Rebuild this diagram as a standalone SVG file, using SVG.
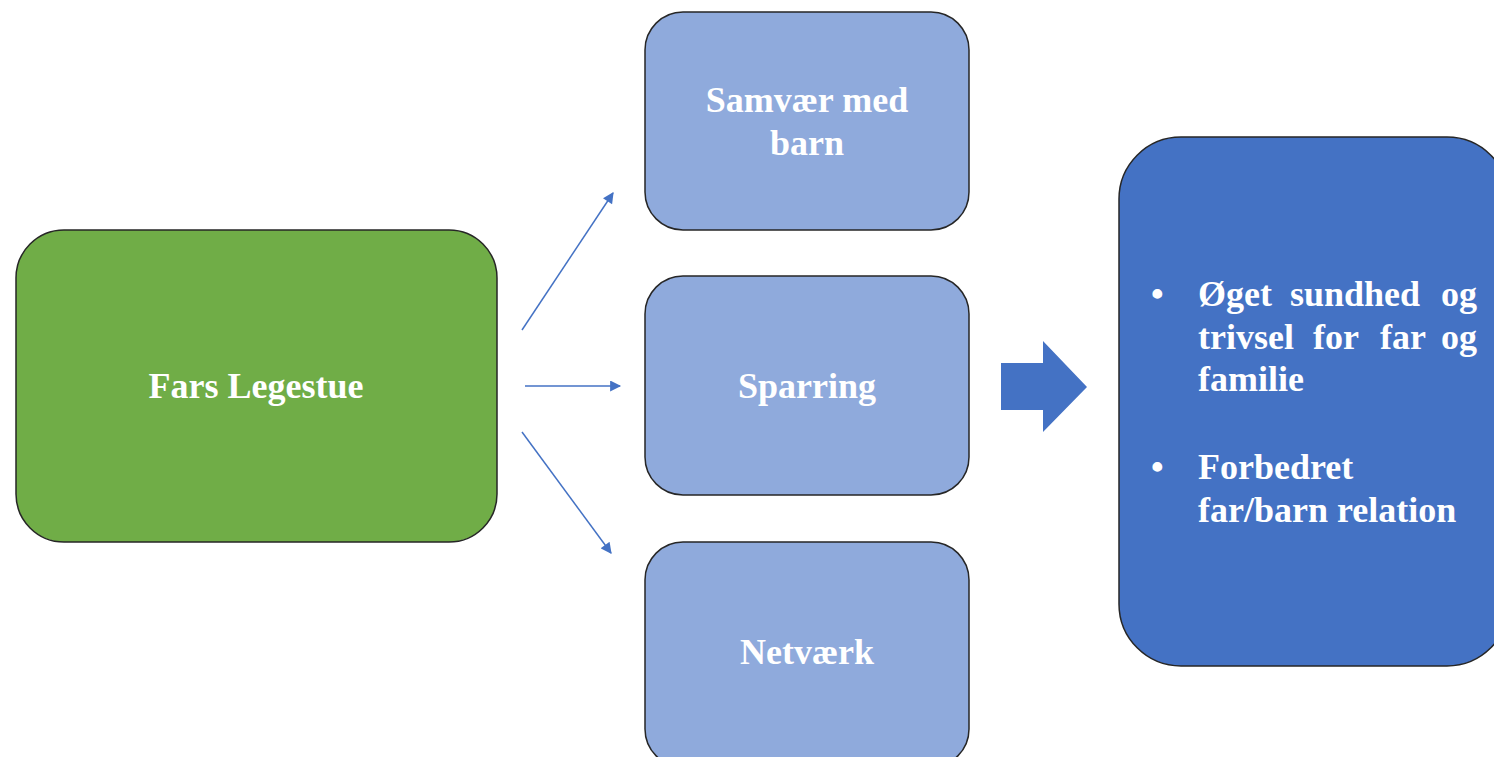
<svg xmlns="http://www.w3.org/2000/svg" width="1494" height="757" viewBox="0 0 1494 757">
<defs>
<style>
.box{stroke:#262626;stroke-width:1.5}
.t{font-family:"Liberation Serif","Times New Roman",serif;font-weight:bold;font-size:36px;fill:#ffffff}
.c{text-anchor:middle}
.conn{stroke:#4472C4;stroke-width:1.5;fill:none}
</style>
<marker id="ah" viewBox="0 0 10 10" refX="9" refY="5" markerWidth="12" markerHeight="11" markerUnits="userSpaceOnUse" orient="auto">
<path d="M0,0 L10,5 L0,10 z" fill="#4472C4"/>
</marker>
</defs>
<rect width="1494" height="757" fill="#ffffff"/>
<g id="fars-legestue">
<rect class="box" x="16" y="230" width="481" height="312" rx="48" fill="#70AD47"/>
<text class="t c" x="256" y="398">Fars Legestue</text>
</g>
<g id="samvaer">
<rect class="box" x="645" y="12" width="324" height="218" rx="38" fill="#8FAADC"/>
<text class="t c" x="807" y="112">Samvær med</text>
<text class="t c" x="807" y="155">barn</text>
</g>
<g id="sparring">
<rect class="box" x="645" y="276" width="324" height="219" rx="38" fill="#8FAADC"/>
<text class="t c" x="807" y="398">Sparring</text>
</g>
<g id="netvaerk">
<rect class="box" x="645" y="542" width="324" height="225" rx="38" fill="#8FAADC"/>
<text class="t c" x="807" y="664">Netværk</text>
</g>
<g id="resultat">
<rect class="box" x="1119" y="137" width="390" height="529" rx="62" fill="#4472C4"/>
<text class="t" x="1151" y="306">•</text>
<text class="t" y="306"><tspan x="1198">Øget</tspan><tspan x="1290">sundhed</tspan><tspan x="1477" text-anchor="end">og</tspan></text>
<text class="t" y="349"><tspan x="1198">trivsel</tspan><tspan x="1313">for</tspan><tspan x="1380">far</tspan><tspan x="1477" text-anchor="end">og</tspan></text>
<text class="t" x="1198" y="391">familie</text>
<text class="t" x="1151" y="479">•</text>
<text class="t" x="1198" y="479">Forbedret</text>
<text class="t" x="1198" y="522">far/barn relation</text>
</g>
<g id="connectors">
<line class="conn" x1="522" y1="330" x2="613" y2="193" marker-end="url(#ah)"/>
<line class="conn" x1="525" y1="386" x2="620" y2="386" marker-end="url(#ah)"/>
<line class="conn" x1="522" y1="432" x2="611" y2="553" marker-end="url(#ah)"/>
<path d="M1001,363 L1043,363 L1043,341 L1087,387 L1043,432 L1043,410 L1001,410 z" fill="#4472C4"/>
</g>
</svg>
